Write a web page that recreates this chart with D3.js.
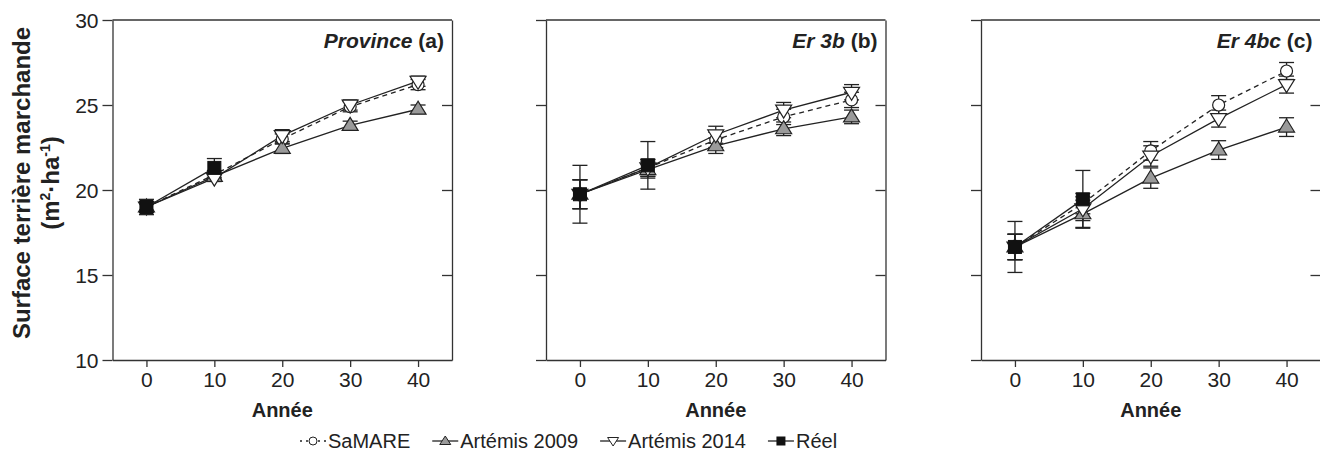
<!DOCTYPE html>
<html>
<head>
<meta charset="utf-8">
<script src="https://cdn.jsdelivr.net/npm/d3@7"></script>
<style>
  body { margin: 0; background: #fff; }
  svg { display: block; font-family: "Liberation Sans", Arial, sans-serif; }
  .axis path, .axis line { stroke: #333; stroke-width: 1.3; }
  .axis text { font-size: 21px; fill: #222; }
</style>
</head>
<body>
<div id="chart"></div>
<script>
// Valeurs
const annees = [0, 10, 20, 30, 40];
const anneesReel = [0, 10];
const panneaux = ["Province", "Er 3b", "Er 4bc"];
const lettres = ["(a)", "(b)", "(c)"];
const yTicks = [10, 15, 20, 25, 30];

const samare = [[19.0, 20.9, 23.0, 24.9, 26.2], [19.75, 21.3, 22.95, 24.3, 25.3], [16.65, 19.2, 22.3, 25.0, 27.0]];
const samareErr = [[0.3, 0.25, 0.3, 0.3, 0.3], [0.85, 0.5, 0.45, 0.45, 0.45], [0.75, 0.6, 0.55, 0.55, 0.5]];
const artemis2009 = [[19.0, 20.8, 22.45, 23.8, 24.75], [19.75, 21.2, 22.6, 23.6, 24.3], [16.65, 18.6, 20.7, 22.35, 23.7]];
const artemis2009Err = [[0.3, 0.2, 0.3, 0.25, 0.25], [0.85, 0.5, 0.45, 0.4, 0.4], [0.75, 0.8, 0.6, 0.55, 0.55]];
const artemis2014 = [[19.0, 20.7, 23.2, 25.0, 26.4], [19.75, 21.3, 23.25, 24.7, 25.75], [16.65, 18.9, 22.0, 24.2, 26.2]];
const artemis2014Err = [[0.3, 0.2, 0.35, 0.3, 0.3], [0.85, 0.5, 0.5, 0.45, 0.45], [0.75, 0.7, 0.6, 0.5, 0.5]];
const reel = [[19.0, 21.3], [19.75, 21.45], [16.65, 19.45]];
const reelErr = [[0.45, 0.55], [1.7, 1.4], [1.5, 1.7]];

const width = 1320, height = 461;
const lefts = [112.5, 546, 981], pw = 339.5, yHaut = 20, yBas = 360;

const svg = d3.select("#chart").append("svg")
    .attr("width", width).attr("height", height);

const y = d3.scaleLinear().domain([10, 30]).range([yBas, yHaut]);

const series = [
  {nom: "SaMARE", x: annees, v: samare, e: samareErr, sym: "circle", fill: "#fff", dash: "5,4"},
  {nom: "Artémis 2009", x: annees, v: artemis2009, e: artemis2009Err, sym: "up", fill: "#9a9a9a", dash: null},
  {nom: "Artémis 2014", x: annees, v: artemis2014, e: artemis2014Err, sym: "down", fill: "#fff", dash: null},
  {nom: "Réel", x: anneesReel, v: reel, e: reelErr, sym: "square", fill: "#111", dash: null}
];

function marker(g, sym, fill, cx, cy) {
  if (sym === "circle") {
    g.append("circle").attr("cx", cx).attr("cy", cy).attr("r", 6)
      .attr("fill", fill).attr("stroke", "#222").attr("stroke-width", 1.2);
  } else if (sym === "square") {
    g.append("rect").attr("x", cx - 6.5).attr("y", cy - 6.5).attr("width", 13).attr("height", 13)
      .attr("fill", fill).attr("stroke", "#111");
  } else {
    const s = sym === "up" ? 1 : -1;
    const h = 13, w = 16;
    const pts = [[cx, cy - s * h * 0.62], [cx - w / 2, cy + s * h * 0.38], [cx + w / 2, cy + s * h * 0.38]];
    g.append("polygon").attr("points", pts.map(p => p.join(",")).join(" "))
      .attr("fill", fill).attr("stroke", "#222").attr("stroke-width", 1.2);
  }
}

panneaux.forEach((nom, i) => {
  const x0 = lefts[i];
  const x = d3.scaleLinear().domain([-5, 45]).range([x0, x0 + pw]);
  const g = svg.append("g");

  // axes
  g.append("g").attr("class", "axis")
    .attr("transform", `translate(${x0},0)`)
    .call(d3.axisLeft(y).tickValues(yTicks).tickSize(10).tickSizeOuter(0)
      .tickFormat(i === 0 ? d3.format("d") : () => ""))
    .selectAll("text").attr("x", -14).attr("dy", "0.35em");

  g.append("g").attr("class", "axis")
    .attr("transform", `translate(${x0 + pw},0)`)
    .call(d3.axisLeft(y).tickValues(yTicks.slice(1, 4)).tickSize(10).tickSizeOuter(0).tickFormat(""));

  g.append("g").attr("class", "axis")
    .attr("transform", `translate(0,${yBas})`)
    .call(d3.axisBottom(x).tickValues(annees).tickSize(7).tickSizeOuter(0))
    .selectAll("text").attr("y", 12).attr("dy", "0.71em");

  g.append("line").attr("x1", x0).attr("x2", x0 + pw).attr("y1", yHaut).attr("y2", yHaut)
    .attr("stroke", "#333").attr("stroke-width", 1.3);

  // titre du panneau
  const t = g.append("text").attr("x", x0 + pw - 8).attr("y", 48)
    .attr("text-anchor", "end").attr("font-size", 21).attr("font-weight", "bold").attr("fill", "#222");
  t.append("tspan").attr("font-style", "italic").text(nom);
  t.append("tspan").text(" " + lettres[i]);

  g.append("text").attr("x", x0 + pw / 2).attr("y", 417).attr("text-anchor", "middle")
    .attr("font-size", 20).attr("font-weight", "bold").attr("fill", "#222").text("Année");

  // séries
  const line = d3.line().x(d => x(d[0])).y(d => y(d[1]));
  series.forEach(s => {
    const pts = s.x.map((a, k) => [a, s.v[i][k]]);
    g.append("path").attr("d", line(pts)).attr("fill", "none")
      .attr("stroke", "#222").attr("stroke-width", 1.3)
      .attr("stroke-dasharray", s.dash);
  });
  series.forEach(s => {
    s.x.forEach((a, k) => {
      const cx = x(a), v = s.v[i][k], e = s.e[i][k];
      const eb = g.append("g").attr("stroke", "#222").attr("stroke-width", 1.3);
      eb.append("line").attr("x1", cx).attr("x2", cx).attr("y1", y(v - e)).attr("y2", y(v + e));
      [v - e, v + e].forEach(b => eb.append("line").attr("x1", cx - 7.5).attr("x2", cx + 7.5)
        .attr("y1", y(b)).attr("y2", y(b)));
    });
  });
  series.forEach(s => {
    s.x.forEach((a, k) => marker(g, s.sym, s.fill, x(a), y(s.v[i][k])));
  });
});

// titre de l'axe Y
const yt = svg.append("text").attr("transform", "translate(30,183) rotate(-90)")
  .attr("text-anchor", "middle").attr("font-size", 24).attr("font-weight", "bold").attr("fill", "#222");
yt.append("tspan").attr("x", 0).attr("dy", 0).text("Surface terrière marchande");
const yt2 = yt.append("tspan").attr("x", 0).attr("dy", 29);
yt2.append("tspan").text("(m");
yt2.append("tspan").attr("font-size", 14).attr("dy", -9).text("2");
yt2.append("tspan").attr("dy", 9).text("·ha");
yt2.append("tspan").attr("font-size", 14).attr("dy", -9).text("-1");
yt2.append("tspan").attr("dy", 9).text(")");

// légende
const leg = svg.append("g");
let lx = 300;
const ly = 441;
series.forEach(s => {
  const l = leg.append("g");
  l.append("line").attr("x1", lx).attr("x2", lx + 26).attr("y1", ly).attr("y2", ly)
    .attr("stroke", "#222").attr("stroke-width", 1.3)
    .attr("stroke-dasharray", s.dash ? "2,4" : null);
  const mg = l.append("g");
  if (s.sym === "circle") {
    mg.append("circle").attr("cx", lx + 13).attr("cy", ly).attr("r", 4)
      .attr("fill", "#fff").attr("stroke", "#222");
  } else if (s.sym === "square") {
    mg.append("rect").attr("x", lx + 8.5).attr("y", ly - 4.5).attr("width", 9).attr("height", 9).attr("fill", "#111");
  } else {
    const sg = s.sym === "up" ? 1 : -1;
    const pts = [[lx + 13, ly - sg * 5], [lx + 7.5, ly + sg * 3.5], [lx + 18.5, ly + sg * 3.5]];
    mg.append("polygon").attr("points", pts.map(p => p.join(",")).join(" "))
      .attr("fill", s.fill).attr("stroke", "#222");
  }
  const tx = l.append("text").attr("x", lx + 28).attr("y", ly + 7)
    .attr("font-size", 20).attr("fill", "#222").text(s.nom);
  lx += 28 + tx.node().getComputedTextLength() + 22;
});
</script>
</body>
</html>
